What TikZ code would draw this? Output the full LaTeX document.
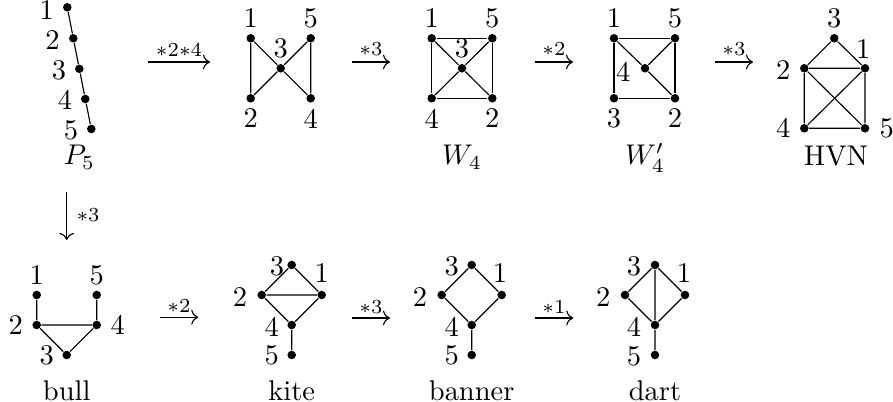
\documentclass[tikz,border=0pt]{standalone}
\usetikzlibrary{arrows.meta}
\begin{document}
\begin{tikzpicture}[x=0.351pt,y=-0.351pt,
  vtx/.style={circle,fill=black,inner sep=0pt,minimum size=3pt},
  lbl/.style={inner sep=0pt},
  captxt/.style={inner sep=0pt,anchor=base},
  ln/.style={line width=0.4pt},
  arr/.style={->,line width=0.4pt},
  alab/.style={inner sep=0pt,font=\scriptsize}]
\useasboundingbox (0,0) rectangle (893,402);

% ---- P5
\node[vtx] (p1) at (67.3,7.3) {};
\node[vtx] (p2) at (73.3,38.3) {};
\node[vtx] (p3) at (79.3,68.8) {};
\node[vtx] (p4) at (85.3,99) {};
\node[vtx] (p5) at (91.3,129) {};
\draw[ln] (p1)--(p2)--(p3)--(p4)--(p5);
\node[lbl] (pl1) at (46.8,10) {1};
\node[lbl] (pl2) at (52.5,40) {2};
\node[lbl] (pl3) at (59,70) {3};
\node[lbl] (pl4) at (65,100) {4};
\node[lbl] (pl5) at (71,130) {5};
\node[captxt] (pcap) at (79.3,165) {$P_5$};

% arrow *2*4
\coordinate (a1s) at (148,62);
\coordinate (a1e) at (210,62);
\draw[arr] (a1s)--(a1e);
\node[alab] (a1l) at (179,50) {${*}2{*}4$};

% ---- bowtie
\node[vtx] (b1) at (250.7,38.3) {};
\node[vtx] (b5) at (310.7,38.3) {};
\node[vtx] (b3) at (280.7,68.3) {};
\node[vtx] (b2) at (250.7,98.3) {};
\node[vtx] (b4) at (310.7,98.3) {};
\draw[ln] (b1)--(b2) (b5)--(b4) (b1)--(b3)--(b4) (b2)--(b3)--(b5);
\node[lbl] (bl1) at (250.7,18.3) {1};
\node[lbl] (bl5) at (310.7,18.3) {5};
\node[lbl] (bl3) at (280.7,48) {3};
\node[lbl] (bl2) at (250.7,118.5) {2};
\node[lbl] (bl4) at (310.7,118.5) {4};

% arrow *3
\coordinate (a2s) at (351.7,62);
\coordinate (a2e) at (390,62);
\draw[arr] (a2s)--(a2e);
\node[alab] (a2l) at (371,49.5) {${*}3$};

% ---- W4
\node[vtx] (w1) at (431.7,38.3) {};
\node[vtx] (w5) at (492.3,38.3) {};
\node[vtx] (w3) at (462,68.3) {};
\node[vtx] (w4) at (431.7,98.3) {};
\node[vtx] (w2) at (492.3,98.3) {};
\draw[ln] (w1)--(w5)--(w2)--(w4)--(w1);
\draw[ln] (w1)--(w3)--(w2) (w5)--(w3)--(w4);
\node[lbl] (wl1) at (431.7,18.3) {1};
\node[lbl] (wl5) at (492.3,18.3) {5};
\node[lbl] (wl3) at (462,48) {3};
\node[lbl] (wl4) at (431.7,118.5) {4};
\node[lbl] (wl2) at (492.3,118.5) {2};
\node[captxt] (wcap) at (462,165) {$W_4$};

% arrow *2
\coordinate (a3s) at (535,62);
\coordinate (a3e) at (573,62);
\draw[arr] (a3s)--(a3e);
\node[alab] (a3l) at (554,49.5) {${*}2$};

% ---- W4'
\node[vtx] (x1) at (614,38.3) {};
\node[vtx] (x5) at (675,38.3) {};
\node[vtx] (x4) at (645,68.3) {};
\node[vtx] (x3) at (614,98.3) {};
\node[vtx] (x2) at (675,98.3) {};
\draw[ln] (x1)--(x5)--(x2)--(x3)--(x1);
\draw[ln] (x1)--(x4)--(x2) (x5)--(x4);
\node[lbl] (xl1) at (614,18.3) {1};
\node[lbl] (xl5) at (675,18.3) {5};
\node[lbl] (xl4) at (623.3,71.7) {4};
\node[lbl] (xl3) at (614,118.5) {3};
\node[lbl] (xl2) at (675,118.5) {2};
\node[captxt] (xcap) at (645,165) {$W_4'$};

% arrow *3
\coordinate (a4s) at (715,62);
\coordinate (a4e) at (753,62);
\draw[arr] (a4s)--(a4e);
\node[alab] (a4l) at (734,49.5) {${*}3$};

% ---- HVN
\node[vtx] (h3) at (834.3,38.3) {};
\node[vtx] (h2) at (804.3,68.3) {};
\node[vtx] (h1) at (865,68.3) {};
\node[vtx] (h4) at (804.3,128.3) {};
\node[vtx] (h5) at (865,128.3) {};
\draw[ln] (h2)--(h3)--(h1)--(h2)--(h4)--(h5)--(h1) (h2)--(h5) (h1)--(h4);
\node[lbl] (hl3) at (834.3,18.3) {3};
\node[lbl] (hl1) at (863.3,49.3) {1};
\node[lbl] (hl2) at (783.3,70) {2};
\node[lbl] (hl4) at (783.3,128.3) {4};
\node[lbl] (hl5) at (886.7,128.3) {5};
\node[captxt] (hcap) at (836,166) {HVN};

% vertical arrow *3
\coordinate (vs) at (66.7,191.7);
\coordinate (ve) at (66.7,240);
\draw[arr] (vs)--(ve);
\node[alab,anchor=west] (vl) at (76,215) {${*}3$};

% ---- bull
\node[vtx] (u1) at (36.7,295) {};
\node[vtx] (u5) at (96.7,295) {};
\node[vtx] (u2) at (36.7,325) {};
\node[vtx] (u4) at (96.7,325) {};
\node[vtx] (u3) at (66.7,355) {};
\draw[ln] (u1)--(u2)--(u4)--(u5) (u2)--(u3)--(u4);
\node[lbl] (ul1) at (36.7,275) {1};
\node[lbl] (ul5) at (96.7,275) {5};
\node[lbl] (ul2) at (15.8,325) {2};
\node[lbl] (ul4) at (117.8,325) {4};
\node[lbl] (ul3) at (46.7,355) {3};
\node[captxt] (ucap) at (66.7,400.5) {bull};

% arrow *2
\coordinate (b1s) at (160,317.3);
\coordinate (b1e) at (198.3,317.3);
\draw[arr] (b1s)--(b1e);
\node[alab] (b1l) at (179,306.5) {${*}2$};

% ---- kite
\node[vtx] (k3) at (291.7,265) {};
\node[vtx] (k2) at (261.7,295) {};
\node[vtx] (k1) at (321.7,295) {};
\node[vtx] (k4) at (291.7,325) {};
\node[vtx] (k5) at (291.7,355) {};
\draw[ln] (k2)--(k3)--(k1)--(k2)--(k4)--(k1) (k4)--(k5);
\node[lbl] (kl3) at (277,266.7) {3};
\node[lbl] (kl2) at (240,296.7) {2};
\node[lbl] (kl1) at (321.7,273.3) {1};
\node[lbl] (kl4) at (271.7,326.7) {4};
\node[lbl] (kl5) at (271.7,355) {5};
\node[captxt] (kcap) at (291.7,400.5) {kite};

% arrow *3
\coordinate (b2s) at (351.7,318);
\coordinate (b2e) at (390,318);
\draw[arr] (b2s)--(b2e);
\node[alab] (b2l) at (371,307) {${*}3$};

% ---- banner
\node[vtx] (n3) at (471.7,265) {};
\node[vtx] (n2) at (441.7,295) {};
\node[vtx] (n1) at (501.7,295) {};
\node[vtx] (n4) at (471.7,325) {};
\node[vtx] (n5) at (471.7,355) {};
\draw[ln] (n2)--(n3)--(n1)--(n4)--(n2) (n4)--(n5);
\node[lbl] (nl3) at (451.7,266.7) {3};
\node[lbl] (nl2) at (420,296.7) {2};
\node[lbl] (nl1) at (500,273.3) {1};
\node[lbl] (nl4) at (451.7,326.7) {4};
\node[lbl] (nl5) at (451.7,355) {5};
\node[captxt] (ncap) at (471.7,400.5) {banner};

% arrow *1
\coordinate (b3s) at (535,318);
\coordinate (b3e) at (573.3,318);
\draw[arr] (b3s)--(b3e);
\node[alab] (b3l) at (554,307) {${*}1$};

% ---- dart
\node[vtx] (d3) at (655,265) {};
\node[vtx] (d2) at (625,295) {};
\node[vtx] (d1) at (685,295) {};
\node[vtx] (d4) at (655,325) {};
\node[vtx] (d5) at (655,355) {};
\draw[ln] (d2)--(d3)--(d1)--(d4)--(d2) (d3)--(d4)--(d5);
\node[lbl] (dl3) at (634,266.7) {3};
\node[lbl] (dl2) at (603.3,296.7) {2};
\node[lbl] (dl1) at (684,273.3) {1};
\node[lbl] (dl4) at (634,326.7) {4};
\node[lbl] (dl5) at (634,356.7) {5};
\node[captxt] (dcap) at (655,400.5) {dart};
\end{tikzpicture}
\end{document}
